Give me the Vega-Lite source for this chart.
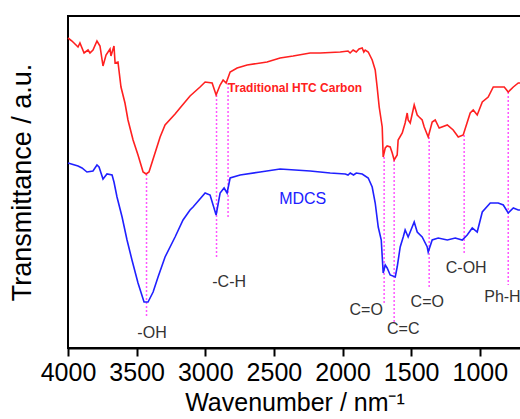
{
  "$schema": "https://vega.github.io/schema/vega-lite/v6.json",
  "autosize": {"type": "none"},
  "width": 453,
  "height": 332,
  "padding": {"left": 68, "top": 16, "right": 0, "bottom": 71},
  "background": "white",
  "config": {
    "view": {"stroke": "black", "strokeWidth": 2},
    "font": "Liberation Sans"
  },
  "datasets": {
    "spectra": [
      {"series": "Traditional HTC Carbon", "wn": 4000, "t": 310},
      {"series": "Traditional HTC Carbon", "wn": 3971, "t": 307},
      {"series": "Traditional HTC Carbon", "wn": 3927, "t": 301},
      {"series": "Traditional HTC Carbon", "wn": 3913, "t": 305},
      {"series": "Traditional HTC Carbon", "wn": 3883, "t": 295},
      {"series": "Traditional HTC Carbon", "wn": 3854, "t": 298},
      {"series": "Traditional HTC Carbon", "wn": 3840, "t": 295},
      {"series": "Traditional HTC Carbon", "wn": 3818, "t": 298},
      {"series": "Traditional HTC Carbon", "wn": 3789, "t": 307},
      {"series": "Traditional HTC Carbon", "wn": 3767, "t": 302},
      {"series": "Traditional HTC Carbon", "wn": 3745, "t": 282},
      {"series": "Traditional HTC Carbon", "wn": 3723, "t": 293},
      {"series": "Traditional HTC Carbon", "wn": 3694, "t": 299},
      {"series": "Traditional HTC Carbon", "wn": 3687, "t": 292},
      {"series": "Traditional HTC Carbon", "wn": 3665, "t": 302},
      {"series": "Traditional HTC Carbon", "wn": 3657, "t": 285},
      {"series": "Traditional HTC Carbon", "wn": 3636, "t": 286},
      {"series": "Traditional HTC Carbon", "wn": 3614, "t": 261},
      {"series": "Traditional HTC Carbon", "wn": 3585, "t": 245},
      {"series": "Traditional HTC Carbon", "wn": 3563, "t": 228},
      {"series": "Traditional HTC Carbon", "wn": 3526, "t": 208},
      {"series": "Traditional HTC Carbon", "wn": 3490, "t": 193},
      {"series": "Traditional HTC Carbon", "wn": 3453, "t": 176},
      {"series": "Traditional HTC Carbon", "wn": 3431, "t": 174},
      {"series": "Traditional HTC Carbon", "wn": 3410, "t": 176},
      {"series": "Traditional HTC Carbon", "wn": 3366, "t": 195},
      {"series": "Traditional HTC Carbon", "wn": 3329, "t": 211},
      {"series": "Traditional HTC Carbon", "wn": 3293, "t": 223},
      {"series": "Traditional HTC Carbon", "wn": 3220, "t": 234},
      {"series": "Traditional HTC Carbon", "wn": 3184, "t": 240},
      {"series": "Traditional HTC Carbon", "wn": 3111, "t": 252},
      {"series": "Traditional HTC Carbon", "wn": 3038, "t": 261},
      {"series": "Traditional HTC Carbon", "wn": 3001, "t": 266},
      {"series": "Traditional HTC Carbon", "wn": 2950, "t": 265},
      {"series": "Traditional HTC Carbon", "wn": 2921, "t": 253},
      {"series": "Traditional HTC Carbon", "wn": 2892, "t": 263},
      {"series": "Traditional HTC Carbon", "wn": 2870, "t": 268},
      {"series": "Traditional HTC Carbon", "wn": 2848, "t": 265},
      {"series": "Traditional HTC Carbon", "wn": 2819, "t": 276},
      {"series": "Traditional HTC Carbon", "wn": 2768, "t": 280},
      {"series": "Traditional HTC Carbon", "wn": 2695, "t": 283},
      {"series": "Traditional HTC Carbon", "wn": 2550, "t": 286},
      {"series": "Traditional HTC Carbon", "wn": 2455, "t": 290},
      {"series": "Traditional HTC Carbon", "wn": 2360, "t": 292},
      {"series": "Traditional HTC Carbon", "wn": 2236, "t": 295},
      {"series": "Traditional HTC Carbon", "wn": 2163, "t": 295},
      {"series": "Traditional HTC Carbon", "wn": 2017, "t": 296},
      {"series": "Traditional HTC Carbon", "wn": 1960, "t": 297},
      {"series": "Traditional HTC Carbon", "wn": 1945, "t": 295},
      {"series": "Traditional HTC Carbon", "wn": 1923, "t": 298},
      {"series": "Traditional HTC Carbon", "wn": 1900, "t": 296},
      {"series": "Traditional HTC Carbon", "wn": 1880, "t": 299},
      {"series": "Traditional HTC Carbon", "wn": 1857, "t": 300},
      {"series": "Traditional HTC Carbon", "wn": 1845, "t": 296},
      {"series": "Traditional HTC Carbon", "wn": 1835, "t": 298},
      {"series": "Traditional HTC Carbon", "wn": 1813, "t": 296},
      {"series": "Traditional HTC Carbon", "wn": 1784, "t": 288},
      {"series": "Traditional HTC Carbon", "wn": 1762, "t": 278},
      {"series": "Traditional HTC Carbon", "wn": 1748, "t": 261},
      {"series": "Traditional HTC Carbon", "wn": 1733, "t": 241},
      {"series": "Traditional HTC Carbon", "wn": 1711, "t": 221},
      {"series": "Traditional HTC Carbon", "wn": 1704, "t": 191},
      {"series": "Traditional HTC Carbon", "wn": 1689, "t": 200},
      {"series": "Traditional HTC Carbon", "wn": 1675, "t": 202},
      {"series": "Traditional HTC Carbon", "wn": 1653, "t": 201},
      {"series": "Traditional HTC Carbon", "wn": 1638, "t": 195},
      {"series": "Traditional HTC Carbon", "wn": 1624, "t": 188},
      {"series": "Traditional HTC Carbon", "wn": 1602, "t": 193},
      {"series": "Traditional HTC Carbon", "wn": 1595, "t": 208},
      {"series": "Traditional HTC Carbon", "wn": 1565, "t": 215},
      {"series": "Traditional HTC Carbon", "wn": 1544, "t": 225},
      {"series": "Traditional HTC Carbon", "wn": 1529, "t": 235},
      {"series": "Traditional HTC Carbon", "wn": 1522, "t": 228},
      {"series": "Traditional HTC Carbon", "wn": 1507, "t": 225},
      {"series": "Traditional HTC Carbon", "wn": 1478, "t": 243},
      {"series": "Traditional HTC Carbon", "wn": 1456, "t": 233},
      {"series": "Traditional HTC Carbon", "wn": 1442, "t": 231},
      {"series": "Traditional HTC Carbon", "wn": 1420, "t": 228},
      {"series": "Traditional HTC Carbon", "wn": 1405, "t": 221},
      {"series": "Traditional HTC Carbon", "wn": 1376, "t": 211},
      {"series": "Traditional HTC Carbon", "wn": 1347, "t": 226},
      {"series": "Traditional HTC Carbon", "wn": 1325, "t": 228},
      {"series": "Traditional HTC Carbon", "wn": 1296, "t": 220},
      {"series": "Traditional HTC Carbon", "wn": 1237, "t": 223},
      {"series": "Traditional HTC Carbon", "wn": 1194, "t": 218},
      {"series": "Traditional HTC Carbon", "wn": 1157, "t": 211},
      {"series": "Traditional HTC Carbon", "wn": 1121, "t": 213},
      {"series": "Traditional HTC Carbon", "wn": 1070, "t": 235},
      {"series": "Traditional HTC Carbon", "wn": 1048, "t": 238},
      {"series": "Traditional HTC Carbon", "wn": 1019, "t": 233},
      {"series": "Traditional HTC Carbon", "wn": 982, "t": 246},
      {"series": "Traditional HTC Carbon", "wn": 939, "t": 251},
      {"series": "Traditional HTC Carbon", "wn": 902, "t": 261},
      {"series": "Traditional HTC Carbon", "wn": 851, "t": 261},
      {"series": "Traditional HTC Carbon", "wn": 822, "t": 261},
      {"series": "Traditional HTC Carbon", "wn": 793, "t": 256},
      {"series": "Traditional HTC Carbon", "wn": 756, "t": 261},
      {"series": "Traditional HTC Carbon", "wn": 720, "t": 265},
      {"series": "Traditional HTC Carbon", "wn": 698, "t": 265},
      {"series": "MDCS", "wn": 4000, "t": 185},
      {"series": "MDCS", "wn": 3927, "t": 182},
      {"series": "MDCS", "wn": 3898, "t": 180},
      {"series": "MDCS", "wn": 3862, "t": 176},
      {"series": "MDCS", "wn": 3818, "t": 177},
      {"series": "MDCS", "wn": 3789, "t": 183},
      {"series": "MDCS", "wn": 3774, "t": 181},
      {"series": "MDCS", "wn": 3745, "t": 169},
      {"series": "MDCS", "wn": 3716, "t": 174},
      {"series": "MDCS", "wn": 3679, "t": 173},
      {"series": "MDCS", "wn": 3665, "t": 166},
      {"series": "MDCS", "wn": 3643, "t": 151},
      {"series": "MDCS", "wn": 3606, "t": 131},
      {"series": "MDCS", "wn": 3570, "t": 108},
      {"series": "MDCS", "wn": 3534, "t": 88},
      {"series": "MDCS", "wn": 3490, "t": 65},
      {"series": "MDCS", "wn": 3446, "t": 46},
      {"series": "MDCS", "wn": 3417, "t": 46},
      {"series": "MDCS", "wn": 3380, "t": 56},
      {"series": "MDCS", "wn": 3344, "t": 71},
      {"series": "MDCS", "wn": 3293, "t": 91},
      {"series": "MDCS", "wn": 3220, "t": 111},
      {"series": "MDCS", "wn": 3162, "t": 128},
      {"series": "MDCS", "wn": 3111, "t": 138},
      {"series": "MDCS", "wn": 3089, "t": 141},
      {"series": "MDCS", "wn": 3001, "t": 155},
      {"series": "MDCS", "wn": 2965, "t": 153},
      {"series": "MDCS", "wn": 2921, "t": 133},
      {"series": "MDCS", "wn": 2892, "t": 155},
      {"series": "MDCS", "wn": 2863, "t": 160},
      {"series": "MDCS", "wn": 2841, "t": 155},
      {"series": "MDCS", "wn": 2819, "t": 170},
      {"series": "MDCS", "wn": 2746, "t": 173},
      {"series": "MDCS", "wn": 2600, "t": 176},
      {"series": "MDCS", "wn": 2455, "t": 179},
      {"series": "MDCS", "wn": 2236, "t": 177},
      {"series": "MDCS", "wn": 2090, "t": 175},
      {"series": "MDCS", "wn": 1980, "t": 174},
      {"series": "MDCS", "wn": 1960, "t": 173},
      {"series": "MDCS", "wn": 1944, "t": 175},
      {"series": "MDCS", "wn": 1920, "t": 173},
      {"series": "MDCS", "wn": 1900, "t": 175},
      {"series": "MDCS", "wn": 1857, "t": 174},
      {"series": "MDCS", "wn": 1813, "t": 170},
      {"series": "MDCS", "wn": 1784, "t": 161},
      {"series": "MDCS", "wn": 1762, "t": 145},
      {"series": "MDCS", "wn": 1740, "t": 121},
      {"series": "MDCS", "wn": 1718, "t": 108},
      {"series": "MDCS", "wn": 1704, "t": 75},
      {"series": "MDCS", "wn": 1689, "t": 83},
      {"series": "MDCS", "wn": 1675, "t": 80},
      {"series": "MDCS", "wn": 1653, "t": 73},
      {"series": "MDCS", "wn": 1616, "t": 71},
      {"series": "MDCS", "wn": 1602, "t": 81},
      {"series": "MDCS", "wn": 1580, "t": 101},
      {"series": "MDCS", "wn": 1558, "t": 111},
      {"series": "MDCS", "wn": 1544, "t": 118},
      {"series": "MDCS", "wn": 1522, "t": 111},
      {"series": "MDCS", "wn": 1478, "t": 126},
      {"series": "MDCS", "wn": 1456, "t": 116},
      {"series": "MDCS", "wn": 1420, "t": 111},
      {"series": "MDCS", "wn": 1383, "t": 101},
      {"series": "MDCS", "wn": 1376, "t": 96},
      {"series": "MDCS", "wn": 1347, "t": 108},
      {"series": "MDCS", "wn": 1303, "t": 110},
      {"series": "MDCS", "wn": 1237, "t": 108},
      {"series": "MDCS", "wn": 1179, "t": 110},
      {"series": "MDCS", "wn": 1128, "t": 108},
      {"series": "MDCS", "wn": 1092, "t": 113},
      {"series": "MDCS", "wn": 1055, "t": 120},
      {"series": "MDCS", "wn": 1019, "t": 116},
      {"series": "MDCS", "wn": 982, "t": 136},
      {"series": "MDCS", "wn": 924, "t": 145},
      {"series": "MDCS", "wn": 866, "t": 145},
      {"series": "MDCS", "wn": 829, "t": 143},
      {"series": "MDCS", "wn": 793, "t": 135},
      {"series": "MDCS", "wn": 756, "t": 140},
      {"series": "MDCS", "wn": 720, "t": 138},
      {"series": "MDCS", "wn": 698, "t": 138}
    ],
    "peaks": [
      {"wn": 3428, "t1": 174, "t2": 30},
      {"wn": 2918, "t1": 253, "t2": 91},
      {"wn": 2834, "t1": 265, "t2": 130},
      {"wn": 1697, "t1": 191, "t2": 43},
      {"wn": 1624, "t1": 188, "t2": 26},
      {"wn": 1369, "t1": 211, "t2": 61},
      {"wn": 1114, "t1": 213, "t2": 93},
      {"wn": 793, "t1": 256, "t2": 63}
    ],
    "groups": [
      {"label": "-OH", "wn": 3388, "t": 15},
      {"label": "-C-H", "wn": 2826, "t": 66},
      {"label": "C=O", "wn": 1828, "t": 38},
      {"label": "C=C", "wn": 1558, "t": 19},
      {"label": "C=O", "wn": 1383, "t": 46},
      {"label": "C-OH", "wn": 1099, "t": 80}
    ],
    "groupsLeft": [
      {"label": "Ph-H", "wn": 968, "t": 51}
    ]
  },
  "layer": [
    {
      "data": {"name": "peaks"},
      "mark": {"type": "rule", "color": "#FF55FF", "strokeWidth": 1.5, "strokeDash": [2, 2]},
      "encoding": {
        "x": {"field": "wn", "type": "quantitative"},
        "y": {"field": "t1", "type": "quantitative"},
        "y2": {"field": "t2"}
      }
    },
    {
      "data": {"name": "spectra"},
      "mark": {"type": "line", "strokeWidth": 1.6},
      "encoding": {
        "x": {
          "field": "wn", "type": "quantitative",
          "scale": {"domain": [4000, 700], "nice": false, "zero": false},
          "axis": {
            "values": [4000, 3750, 3500, 3250, 3000, 2750, 2500, 2250, 2000, 1750, 1500, 1250, 1000, 750],
            "format": "d",
            "labelExpr": "datum.value % 500 === 0 ? datum.label : ''",
            "tickSize": {"expr": "datum.value % 500 === 0 ? 8 : 4"},
            "tickColor": "black", "tickWidth": 2,
            "domainColor": "black", "domainWidth": 2,
            "grid": false,
            "labelFont": "Liberation Sans", "labelFontSize": 25, "labelColor": "black",
            "labelPadding": 4, "labelFlush": false,
            "title": "Wavenumber / nm⁻¹",
            "titleFont": "Liberation Sans", "titleFontSize": 25, "titleFontWeight": "normal",
            "titleColor": "black", "titlePadding": 5
          }
        },
        "y": {
          "field": "t", "type": "quantitative",
          "scale": {"domain": [0, 332], "nice": false},
          "axis": {
            "ticks": false, "labels": false, "domain": false, "grid": false,
            "title": "Transmittance / a.u.",
            "titleFont": "Liberation Sans", "titleFontSize": 27, "titleFontWeight": "normal",
            "titleColor": "black", "titlePadding": 32
          }
        },
        "color": {
          "field": "series", "type": "nominal",
          "scale": {"domain": ["Traditional HTC Carbon", "MDCS"], "range": ["#FF2020", "#2020FF"]},
          "legend": null
        }
      }
    },
    {
      "data": {"name": "groups"},
      "mark": {"type": "text", "font": "Liberation Sans", "fontSize": 16, "color": "#333333", "align": "center", "baseline": "middle"},
      "encoding": {
        "x": {"field": "wn", "type": "quantitative"},
        "y": {"field": "t", "type": "quantitative"},
        "text": {"field": "label"}
      }
    },
    {
      "data": {"name": "groupsLeft"},
      "mark": {"type": "text", "font": "Liberation Sans", "fontSize": 16, "color": "#333333", "align": "left", "baseline": "middle"},
      "encoding": {
        "x": {"field": "wn", "type": "quantitative"},
        "y": {"field": "t", "type": "quantitative"},
        "text": {"field": "label"}
      }
    },
    {
      "data": {"values": [{"label": "Traditional HTC Carbon", "wn": 2834, "t": 260}]},
      "mark": {"type": "text", "font": "Liberation Sans", "fontSize": 12, "fontWeight": "bold", "color": "#FF2020", "align": "left", "baseline": "middle"},
      "encoding": {
        "x": {"field": "wn", "type": "quantitative"},
        "y": {"field": "t", "type": "quantitative"},
        "text": {"field": "label"}
      }
    },
    {
      "data": {"values": [{"label": "MDCS", "wn": 2462, "t": 149}]},
      "mark": {"type": "text", "font": "Liberation Sans", "fontSize": 16, "color": "#2020FF", "align": "left", "baseline": "middle"},
      "encoding": {
        "x": {"field": "wn", "type": "quantitative"},
        "y": {"field": "t", "type": "quantitative"},
        "text": {"field": "label"}
      }
    }
  ]
}
